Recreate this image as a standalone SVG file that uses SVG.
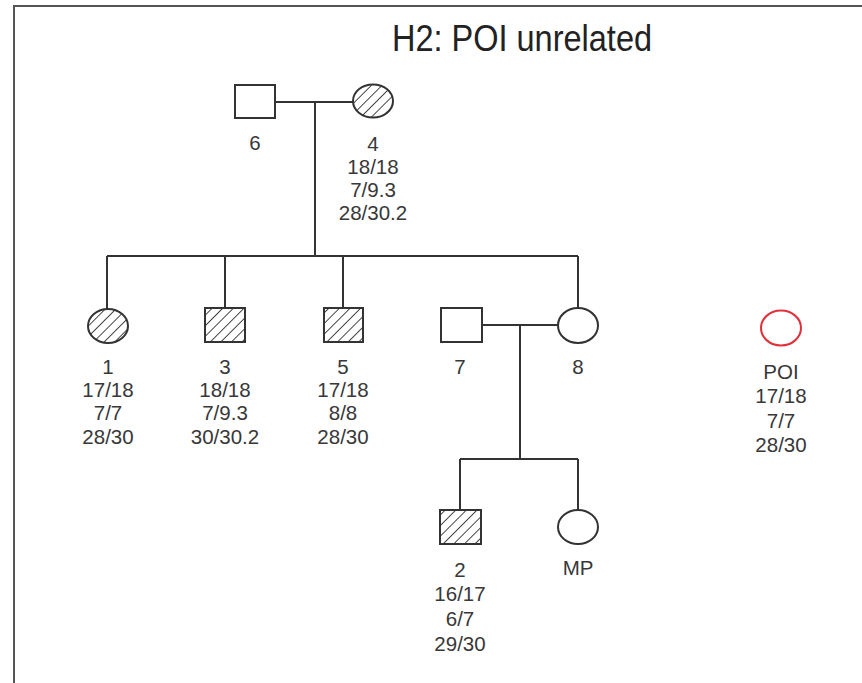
<svg xmlns="http://www.w3.org/2000/svg" width="862" height="683" viewBox="0 0 862 683">
<defs>
<pattern id="hatch" patternUnits="userSpaceOnUse" width="7.5" height="7.5" patternTransform="rotate(45)">
<line x1="0" y1="0" x2="0" y2="7.5" stroke="#333" stroke-width="1.8"/>
</pattern>
</defs>
<style>
.ln{stroke:#333;stroke-width:2;fill:none}
.sym{stroke:#333;stroke-width:2;fill:#fff}
.aff{stroke:#333;stroke-width:2;fill:url(#hatch)}
.poi{stroke:#e0303a;stroke-width:2;fill:#fff}
.t{font-family:"Liberation Sans",Arial,sans-serif;font-size:20.5px;fill:#383838;text-anchor:middle}
.title{font-family:"Liberation Sans",Arial,sans-serif;font-size:32.5px;fill:#222;text-anchor:middle}
</style>
<rect x="0" y="0" width="862" height="683" fill="#fff"/>
<g id="frame">
<line x1="14" y1="6" x2="862" y2="6" stroke="#555" stroke-width="2"/>
<line x1="14" y1="5" x2="14" y2="683" stroke="#555" stroke-width="2"/>
</g>
<text class="title" transform="translate(522,51) scale(1,1.16)">H2: POI unrelated</text>
<g id="connectors">
<line class="ln" x1="275" y1="102" x2="353" y2="102"/>
<line class="ln" x1="315" y1="102" x2="315" y2="256"/>
<line class="ln" x1="107" y1="256" x2="578" y2="256"/>
<line class="ln" x1="107" y1="256" x2="107" y2="309"/>
<line class="ln" x1="225" y1="256" x2="225" y2="308"/>
<line class="ln" x1="343" y1="256" x2="343" y2="308"/>
<line class="ln" x1="578" y1="256" x2="578" y2="308"/>
<line class="ln" x1="482" y1="325" x2="558" y2="325"/>
<line class="ln" x1="520" y1="325" x2="520" y2="459"/>
<line class="ln" x1="460" y1="459" x2="578" y2="459"/>
<line class="ln" x1="460" y1="459" x2="460" y2="510"/>
<line class="ln" x1="578" y1="459" x2="578" y2="510"/>
</g>
<g id="n6">
<rect class="sym" x="235" y="85" width="40" height="33"/>
<text class="t" x="255" y="150">6</text>
</g>
<g id="n4">
<ellipse class="aff" cx="373" cy="101" rx="20" ry="16.5"/>
<text class="t" x="373" y="151">4</text>
<text class="t" x="373" y="174">18/18</text>
<text class="t" x="373" y="197">7/9.3</text>
<text class="t" x="373" y="220">28/30.2</text>
</g>
<g id="n1">
<ellipse class="aff" cx="108" cy="326" rx="20" ry="17"/>
<text class="t" x="108" y="374">1</text>
<text class="t" x="108" y="397">17/18</text>
<text class="t" x="108" y="420">7/7</text>
<text class="t" x="108" y="444">28/30</text>
</g>
<g id="n3">
<rect class="aff" x="205" y="308" width="40" height="34"/>
<text class="t" x="225" y="374">3</text>
<text class="t" x="225" y="397">18/18</text>
<text class="t" x="225" y="420">7/9.3</text>
<text class="t" x="225" y="444">30/30.2</text>
</g>
<g id="n5">
<rect class="aff" x="324" y="308" width="39" height="34"/>
<text class="t" x="343" y="374">5</text>
<text class="t" x="343" y="397">17/18</text>
<text class="t" x="343" y="420">8/8</text>
<text class="t" x="343" y="444">28/30</text>
</g>
<g id="n7">
<rect class="sym" x="441" y="308" width="41" height="34"/>
<text class="t" x="460" y="374">7</text>
</g>
<g id="n8">
<ellipse class="sym" cx="578" cy="325.5" rx="20" ry="17.5"/>
<text class="t" x="578" y="374">8</text>
</g>
<g id="n2">
<rect class="aff" x="440" y="510" width="41" height="34"/>
<text class="t" x="460" y="577">2</text>
<text class="t" x="460" y="601">16/17</text>
<text class="t" x="460" y="626">6/7</text>
<text class="t" x="460" y="651">29/30</text>
</g>
<g id="nMP">
<ellipse class="sym" cx="578" cy="527" rx="20" ry="17"/>
<text class="t" x="578" y="575">MP</text>
</g>
<g id="nPOI">
<ellipse class="poi" cx="781" cy="328" rx="20" ry="17.5"/>
<text class="t" x="781" y="379">POI</text>
<text class="t" x="781" y="403">17/18</text>
<text class="t" x="781" y="428">7/7</text>
<text class="t" x="781" y="452">28/30</text>
</g>
</svg>
